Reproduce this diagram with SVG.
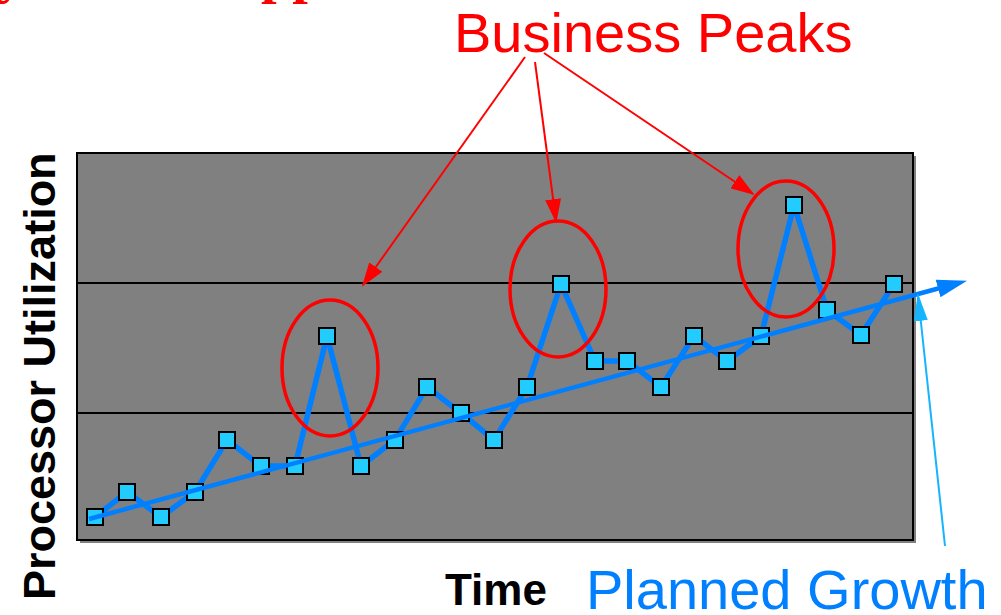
<svg xmlns="http://www.w3.org/2000/svg" width="1001" height="615" viewBox="0 0 1001 615">
  <style>
    .pt { fill: #22ccff; stroke: #000; stroke-width: 2; }
    .red { stroke: #ff0000; stroke-width: 2; fill: none; }
    .peak { stroke: #ff0000; stroke-width: 3.5; fill: none; }
    .grid { stroke: #000; stroke-width: 2; }
    .lbl { font-family: "Liberation Sans", Arial, sans-serif; }
  </style>
  <defs>
    <marker id="redHead" markerUnits="userSpaceOnUse" markerWidth="26" markerHeight="16" refX="22" refY="8" orient="auto">
      <path d="M0,0 L24,8 L0,16 z" fill="#ff0000"/>
    </marker>
    <marker id="blueHead" markerUnits="userSpaceOnUse" markerWidth="32" markerHeight="20" refX="2" refY="10" orient="auto">
      <path d="M0,1 L30,10 L0,19 z" fill="#0080ff"/>
    </marker>
    <marker id="cyanHead" markerUnits="userSpaceOnUse" markerWidth="30" markerHeight="14" refX="26" refY="7" orient="auto">
      <path d="M0,0 L28,7 L0,14 z" fill="#14b4ff"/>
    </marker>
  </defs>

  <!-- cropped title remnants -->
  <text x="-3" y="-8" font-family="'Liberation Serif', 'Times New Roman', serif" font-weight="bold" font-size="56" fill="#ff0000"><tspan x="-3">y</tspan><tspan x="261">pp</tspan></text>

  <!-- plot area -->
  <g id="plot">
    <rect x="80" y="156" width="836" height="387" fill="#808080"/>
    <rect x="77" y="153" width="836" height="387" fill="#808080" stroke="#000" stroke-width="2"/>
    <line class="grid" x1="77" y1="283" x2="913" y2="283"/>
    <line class="grid" x1="77" y1="413" x2="913" y2="413"/>
  </g>

  <!-- axis labels -->
  <text id="ylabel" class="lbl" transform="translate(55,600) rotate(-90)" font-size="45" font-weight="bold" fill="#000">Processor Utilization</text>
  <text id="xlabel" class="lbl" x="445" y="605" font-size="44" font-weight="bold" fill="#000">Time</text>

  <g id="connectors">
    <polyline id="series" fill="none" stroke="#0080ff" stroke-width="5.5" stroke-linejoin="miter"
      points="95,517 127,492 161,517 195,492 227,440 261,466 295,466 327,336 361,466 395,440 427,387 461,413 494,440 527,387 561,284 595,361 627,361 661,387 694,336 727,361 761,336 794,205 827,310 861,335 894,284"/>
  </g>

  <g id="points">
    <rect class="pt" x="87" y="509" width="16" height="16"/>
    <rect class="pt" x="119" y="484" width="16" height="16"/>
    <rect class="pt" x="153" y="509" width="16" height="16"/>
    <rect class="pt" x="187" y="484" width="16" height="16"/>
    <rect class="pt" x="219" y="432" width="16" height="16"/>
    <rect class="pt" x="253" y="458" width="16" height="16"/>
    <rect class="pt" x="287" y="458" width="16" height="16"/>
    <rect class="pt" x="319" y="328" width="16" height="16"/>
    <rect class="pt" x="353" y="458" width="16" height="16"/>
    <rect class="pt" x="387" y="432" width="16" height="16"/>
    <rect class="pt" x="419" y="379" width="16" height="16"/>
    <rect class="pt" x="453" y="405" width="16" height="16"/>
    <rect class="pt" x="486" y="432" width="16" height="16"/>
    <rect class="pt" x="519" y="379" width="16" height="16"/>
    <rect class="pt" x="553" y="276" width="16" height="16"/>
    <rect class="pt" x="587" y="353" width="16" height="16"/>
    <rect class="pt" x="619" y="353" width="16" height="16"/>
    <rect class="pt" x="653" y="379" width="16" height="16"/>
    <rect class="pt" x="686" y="328" width="16" height="16"/>
    <rect class="pt" x="719" y="353" width="16" height="16"/>
    <rect class="pt" x="753" y="328" width="16" height="16"/>
    <rect class="pt" x="786" y="197" width="16" height="16"/>
    <rect class="pt" x="819" y="302" width="16" height="16"/>
    <rect class="pt" x="853" y="327" width="16" height="16"/>
    <rect class="pt" x="886" y="276" width="16" height="16"/>
  </g>

  <g id="peaks">
    <ellipse class="peak" cx="330" cy="368" rx="48" ry="68"/>
    <ellipse class="peak" cx="558" cy="289" rx="48" ry="68"/>
    <ellipse class="peak" cx="786" cy="249" rx="48" ry="68"/>
  </g>

  <g id="trend">
    <line x1="89" y1="519" x2="940" y2="288" stroke="#0080ff" stroke-width="4.5" marker-end="url(#blueHead)"/>
  </g>

  <g id="annotations">
    <line class="red" x1="525" y1="57" x2="363" y2="285" marker-end="url(#redHead)"/>
    <line class="red" x1="535" y1="62" x2="556" y2="221" marker-end="url(#redHead)"/>
    <line class="red" x1="544" y1="53" x2="753" y2="194" marker-end="url(#redHead)"/>
    <line x1="945" y1="546" x2="918" y2="295" stroke="#14b4ff" stroke-width="2" marker-end="url(#cyanHead)"/>
  </g>

  <g id="labels">
    <text class="lbl" x="454" y="52" font-size="56" fill="#ff0000">Business Peaks</text>
    <text class="lbl" x="586" y="609" font-size="56" fill="#0080ff">Planned Growth</text>
  </g>
</svg>
